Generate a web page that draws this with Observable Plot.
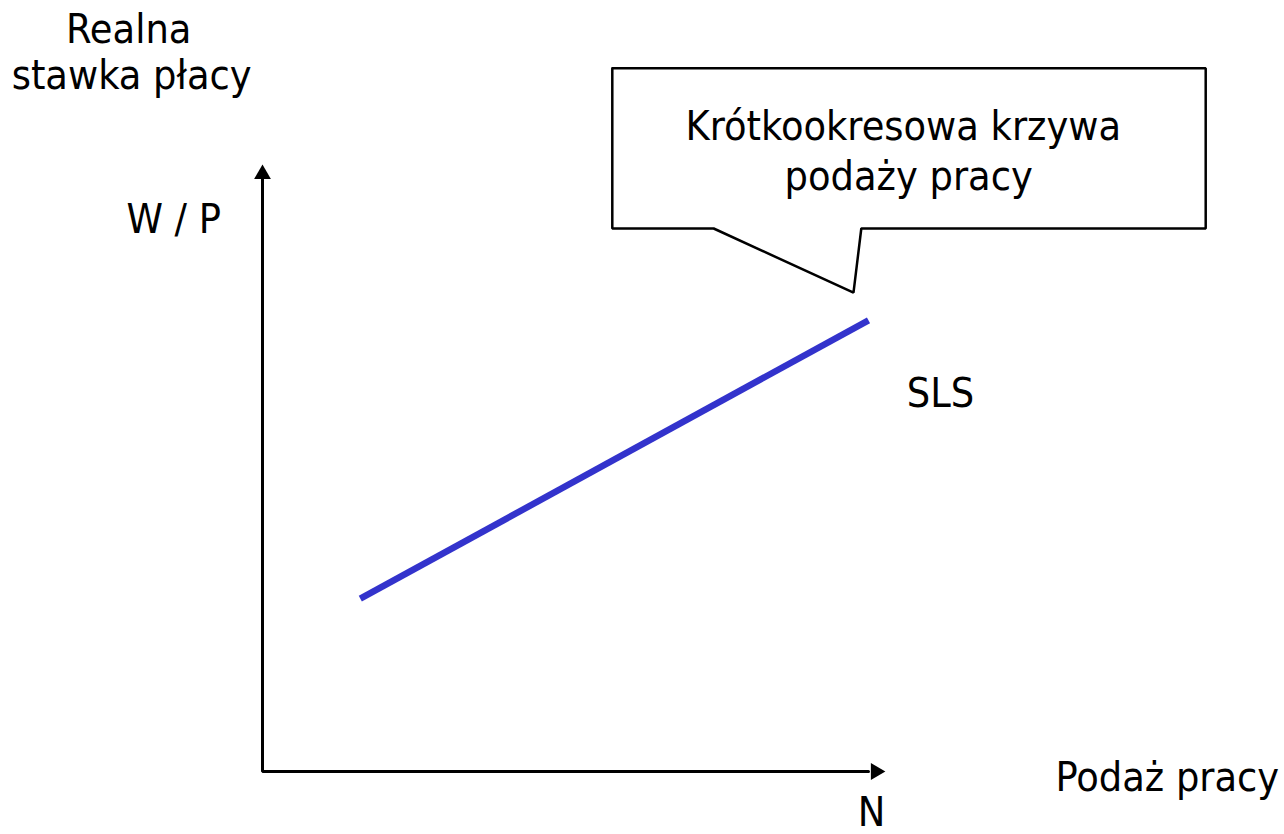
<!DOCTYPE html>
<html>
<head>
<meta charset="utf-8">
<script src="https://cdn.jsdelivr.net/npm/d3@7"></script>
<script src="https://cdn.jsdelivr.net/npm/@observablehq/plot@0.6"></script>
<style>
  html, body { margin: 0; padding: 0; background: #fff; }
  #chart svg { display: block; }
</style>
</head>
<body>
<div id="chart"></div>
<script>
// Short-run labour supply curve (SLS): N on x, W/P on y (abstract units)
const slsN = [1.63, 10.1];
const slsW = [2.88, 7.52];

// Axis ends (arrow shafts and arrowheads)
const axisShaftN = [0, 0, 10.1];
const axisShaftW = [9.88, 0, 0];
const arrowN = [0, 10.22];
const arrowW = [9.955, 0];
const arrowRotate = [0, 90];

// Callout outline (box with pointer towards the curve)
const calloutN = [5.83, 15.72, 15.72, 9.98, 9.85, 7.52, 5.83, 5.83];
const calloutW = [11.72, 11.72, 9.05, 9.05, 7.98, 9.05, 9.05, 11.72];

// Texts
const labelText = ["Realna", "stawka płacy", "W / P", "Krótkookresowa krzywa", "podaży pracy", "SLS", "Podaż pracy", "N"];
const labelN = [-2.23, -2.18, -1.48, 10.68, 10.77, 11.3, 15.08, 10.15];
const labelW = [12.15, 11.37, 8.98, 10.53, 9.7, 6.07, -0.32, -0.91];

const sls = slsN.map((n, i) => ({n, w: slsW[i]}));
const shaft = axisShaftN.map((n, i) => ({n, w: axisShaftW[i]}));
const heads = arrowN.map((n, i) => ({n, w: arrowW[i], r: arrowRotate[i]}));
const callout = calloutN.map((n, i) => ({n, w: calloutW[i]}));
const labels = labelText.map((t, i) => ({t, n: labelN[i], w: labelW[i]}));

const FONT = "'DejaVu Sans Condensed', 'DejaVu Sans', sans-serif";

const chart = Plot.plot({
  width: 1284,
  height: 834,
  marginLeft: 262,
  marginRight: 422,
  marginTop: 171,
  marginBottom: 63,
  x: {domain: [0, 10], axis: null},
  y: {domain: [0, 10], axis: null},
  style: {background: "#fff", overflow: "visible"},
  marks: [
    Plot.line(shaft, {x: "n", y: "w", stroke: "#000", strokeWidth: 3, strokeLinejoin: "miter"}),
    Plot.dot(heads, {x: "n", y: "w", rotate: "r", symbol: "triangle2", r: 8, fill: "#000", stroke: "none"}),
    Plot.line(callout, {x: "n", y: "w", stroke: "#000", strokeWidth: 2.5, strokeLinejoin: "miter"}),
    Plot.line(sls, {x: "n", y: "w", stroke: "#3333CC", strokeWidth: 6.5, strokeLinecap: "butt"}),
    Plot.text(labels, {x: "n", y: "w", text: "t", textAnchor: "middle", lineAnchor: "bottom",
      fontFamily: FONT, fontSize: 41, fill: "#000"})
  ]
});
document.getElementById("chart").appendChild(chart);
</script>
</body>
</html>
